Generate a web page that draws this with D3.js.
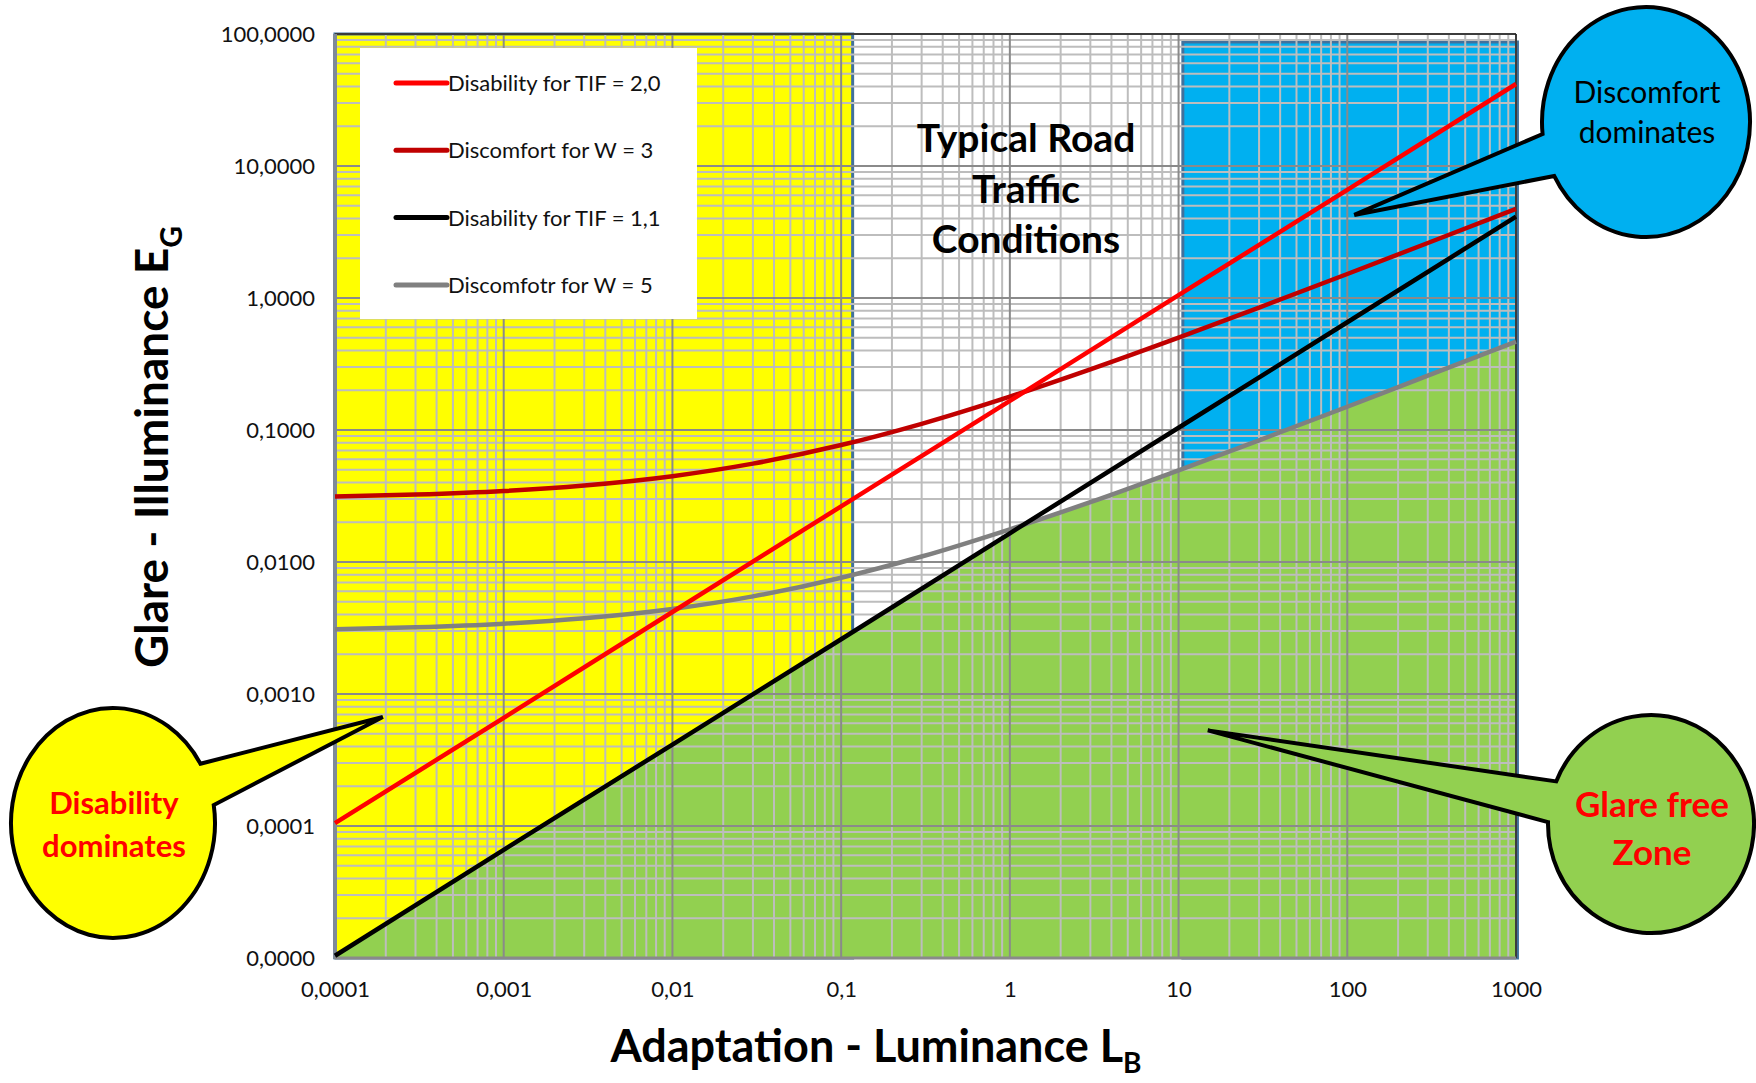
<!DOCTYPE html>
<html>
<head>
<meta charset="utf-8">
<script src="https://cdn.jsdelivr.net/npm/d3@7"></script>
<style>
    body { margin: 0; background: #fff; }
    svg { display: block; font-family: Lato, "Open Sans", sans-serif; }
</style>
</head>
<body>
<div id="chart"></div>
<script>
// adaptation luminance (x) for the straight disability lines
var lumDecades = [0.0001, 0.001, 0.01, 0.1, 1, 10, 100, 1000];
var disabilityTif20 = [0.000105, 0.00066, 0.00418, 0.0264, 0.166, 1.05, 6.6, 41.8];
var disabilityTif11 = [0.0000104, 0.000066, 0.000414, 0.0026, 0.0165, 0.104, 0.655, 4.13];

// adaptation luminance (x) for the curved discomfort lines
var lumSteps = [0.0001, 0.0003, 0.001, 0.003, 0.01, 0.03, 0.1, 0.3, 1, 3, 10, 30, 100, 300, 1000];
var discomfortW3 = [0.0313, 0.0324, 0.0345, 0.038, 0.0447, 0.0556, 0.0769, 0.1114, 0.179, 0.288, 0.501, 0.846, 1.52, 2.61, 4.74];
var discomfortW5 = [0.00309, 0.0032, 0.00341, 0.00375, 0.00441, 0.00549, 0.0076, 0.011, 0.0177, 0.0284, 0.0495, 0.0836, 0.15, 0.258, 0.468];

var seriesNames = ["Disability for TIF = 2,0", "Discomfort for W = 3", "Disability for TIF = 1,1", "Discomfotr for W = 5"];
var seriesColors = ["#ff0000", "#c00000", "#000000", "#808080"];

var xTicks = [0.0001, 0.001, 0.01, 0.1, 1, 10, 100, 1000];
var xTickLabels = ["0,0001", "0,001", "0,01", "0,1", "1", "10", "100", "1000"];
var yTicks = [0.00001, 0.0001, 0.001, 0.01, 0.1, 1, 10, 100];
var yTickLabels = ["0,0000", "0,0001", "0,0010", "0,0100", "0,1000", "1,0000", "10,0000", "100,0000"];

// zone limits in luminance / illuminance
var yellowZone = [0.0001, 0.117, 100];
var blueZone = [10.6, 1020, 87];

function init() {
    var w = 1756;
    var h = 1083;
    var left = 335, right = 1516, top = 34, bottom = 958;

    var svg = d3.select("#chart")
        .append("svg")
        .attr("width", w)
        .attr("height", h);

    var xScale = d3.scaleLog().domain([0.0001, 1000]).range([left, right]);
    var yScale = d3.scaleLog().domain([0.00001, 100]).range([bottom, top]);

    var pts = function (xs, ys) {
        return xs.map(function (d, i) { return { x: d, y: ys[i] }; });
    };
    var red = pts(lumDecades, disabilityTif20);
    var black = pts(lumDecades, disabilityTif11);
    var darkRed = pts(lumSteps, discomfortW3);
    var grey = pts(lumSteps, discomfortW5);

    // zones
    svg.append("rect")
        .attr("x", xScale(yellowZone[0]))
        .attr("y", yScale(yellowZone[2]))
        .attr("width", xScale(yellowZone[1]) - xScale(yellowZone[0]))
        .attr("height", bottom - yScale(yellowZone[2]))
        .attr("fill", "#ffff00")
        .attr("stroke", "#41719c")
        .attr("stroke-width", 3);

    svg.append("rect")
        .attr("x", xScale(blueZone[0]))
        .attr("y", yScale(blueZone[2]))
        .attr("width", xScale(blueZone[1]) - xScale(blueZone[0]))
        .attr("height", bottom - yScale(blueZone[2]))
        .attr("fill", "#00b0f0")
        .attr("stroke", "#41719c")
        .attr("stroke-width", 3);

    // glare free zone: below both the black line and the grey curve
    var areaUnder = function (curve) {
        return d3.area()
            .x(function (d) { return xScale(d.x); })
            .y0(bottom)
            .y1(function (d) { return yScale(d.y); })
            .curve(curve);
    };
    svg.append("clipPath")
        .attr("id", "underGrey")
        .append("path")
        .attr("d", areaUnder(d3.curveMonotoneX)(grey));
    svg.append("path")
        .attr("d", areaUnder(d3.curveLinear)(black))
        .attr("clip-path", "url(#underGrey)")
        .attr("fill", "#92d050");

    // grid lines
    var minorX = [], minorY = [];
    for (var k = -5; k <= 2; k++) {
        for (var m = 2; m <= 9; m++) {
            var v = m * Math.pow(10, k);
            if (v > 0.0001 && v < 1000) minorX.push(v);
            if (v > 0.00001 && v < 100) minorY.push(v);
        }
    }
    var grid = svg.append("g");
    grid.selectAll(".minorX").data(minorX).enter().append("line")
        .attr("x1", function (d) { return xScale(d); })
        .attr("x2", function (d) { return xScale(d); })
        .attr("y1", top).attr("y2", bottom)
        .attr("stroke", "#bdbdbd").attr("stroke-width", 2);
    grid.selectAll(".minorY").data(minorY).enter().append("line")
        .attr("y1", function (d) { return yScale(d); })
        .attr("y2", function (d) { return yScale(d); })
        .attr("x1", left).attr("x2", right)
        .attr("stroke", "#bdbdbd").attr("stroke-width", 2);
    grid.selectAll(".majorX").data(xTicks).enter().append("line")
        .attr("x1", function (d) { return xScale(d); })
        .attr("x2", function (d) { return xScale(d); })
        .attr("y1", top).attr("y2", bottom)
        .attr("stroke", "#8a8a8a").attr("stroke-width", 2);
    grid.selectAll(".majorY").data(yTicks).enter().append("line")
        .attr("y1", function (d) { return yScale(d); })
        .attr("y2", function (d) { return yScale(d); })
        .attr("x1", left).attr("x2", right)
        .attr("stroke", "#8a8a8a").attr("stroke-width", 2);

    // frame
    svg.append("line").attr("x1", left).attr("x2", right).attr("y1", top).attr("y2", top)
        .attr("stroke", "#222").attr("stroke-width", 1.5);
    svg.append("line").attr("x1", right).attr("x2", right).attr("y1", top).attr("y2", bottom)
        .attr("stroke", "#222").attr("stroke-width", 1.5);
    svg.append("line").attr("x1", left).attr("x2", left).attr("y1", top).attr("y2", bottom + 1)
        .attr("stroke", "#7f8a98").attr("stroke-width", 4);
    svg.append("line").attr("x1", left).attr("x2", right).attr("y1", bottom).attr("y2", bottom)
        .attr("stroke", "#8a8a8a").attr("stroke-width", 3);

    // legend box
    var legend = svg.append("g").attr("transform", "translate(360,48)");
    legend.append("rect")
        .attr("width", 337).attr("height", 271)
        .attr("fill", "#fff");
    var legendItem = legend.selectAll(".legend-item")
        .data(seriesNames)
        .enter()
        .append("g")
        .attr("transform", function (d, i) { return "translate(0," + (35 + i * 67.3) + ")"; });
    legendItem.append("line")
        .attr("x1", 36).attr("x2", 87)
        .attr("stroke", function (d, i) { return seriesColors[i]; })
        .attr("stroke-width", 5)
        .attr("stroke-linecap", "round");
    legendItem.append("text")
        .attr("x", 88)
        .attr("dy", "0.36em")
        .style("font-size", "22px")
        .attr("fill", "#111")
        .text(function (d) { return d; });

    // data lines
    var lineGen = function (curve) {
        return d3.line()
            .x(function (d) { return xScale(d.x); })
            .y(function (d) { return yScale(d.y); })
            .curve(curve);
    };
    var seriesData = [red, darkRed, black, grey];
    var curves = [d3.curveLinear, d3.curveMonotoneX, d3.curveLinear, d3.curveMonotoneX];
    [3, 2, 1, 0].forEach(function (i) {
        svg.append("path")
            .datum(seriesData[i])
            .attr("d", lineGen(curves[i]))
            .attr("fill", "none")
            .attr("stroke", seriesColors[i])
            .attr("stroke-width", 4.5);
    });

    // road traffic label
    var road = svg.append("text")
        .attr("text-anchor", "middle")
        .style("font-size", "39px")
        .style("font-weight", "bold")
        .attr("fill", "#000");
    ["Typical Road", "Traffic", "Conditions"].forEach(function (t, i) {
        road.append("tspan").attr("x", 1026).attr("y", 152 + i * 50.5).text(t);
    });

    // callout bubbles (tip given in chart units)
    var callouts = [
        { cx: 113, cy: 823, rx: 102, ry: 115, a1: -31, a2: -9, tip: [0.000192, 0.00067],
          fill: "#ffff00", color: "#ff0000", weight: "bold", size: 31,
          lines: ["Disability", "dominates"], tx: 114, ty: [814, 857] },
        { cx: 1646, cy: 122, rx: 104, ry: 115, a1: 152, a2: 174, tip: [110, 4.26],
          fill: "#00b0f0", color: "#000", weight: "normal", size: 30,
          lines: ["Discomfort", "dominates"], tx: 1647, ty: [103, 143] },
        { cx: 1651, cy: 824, rx: 103, ry: 109, a1: 181, a2: 203, tip: [14.9, 0.00053],
          fill: "#92d050", color: "#ff0000", weight: "bold", size: 35,
          lines: ["Glare free", "Zone"], tx: 1652, ty: [817, 865] }
    ];
    callouts.forEach(function (c) {
        var p = function (a) {
            var r = a * Math.PI / 180;
            return [c.cx + c.rx * Math.cos(r), c.cy + c.ry * Math.sin(r)];
        };
        var p1 = p(c.a1), p2 = p(c.a2);
        var tx = xScale(c.tip[0]), ty = yScale(c.tip[1]);
        var d = "M" + p1[0] + "," + p1[1] +
            "L" + tx + "," + ty +
            "L" + p2[0] + "," + p2[1] +
            "A" + c.rx + "," + c.ry + " 0 1 1 " + p1[0] + "," + p1[1] + "Z";
        svg.append("path")
            .attr("d", d)
            .attr("fill", c.fill)
            .attr("stroke", "#000")
            .attr("stroke-width", 4)
            .attr("stroke-linejoin", "miter");
        var t = svg.append("text")
            .attr("text-anchor", "middle")
            .style("font-size", c.size + "px")
            .style("font-weight", c.weight)
            .attr("fill", c.color);
        c.lines.forEach(function (s, i) {
            t.append("tspan").attr("x", c.tx).attr("y", c.ty[i]).text(s);
        });
    });

    // axes
    var xAxis = d3.axisBottom(xScale)
        .tickValues(xTicks)
        .tickSize(0)
        .tickFormat(function (d, i) { return xTickLabels[i]; });
    var gx = svg.append("g")
        .attr("transform", "translate(0," + bottom + ")")
        .call(xAxis);
    gx.select(".domain").remove();
    gx.selectAll("text")
        .attr("dy", "1.65em")
        .style("font-family", "Lato, sans-serif")
        .style("font-size", "22px")
        .attr("fill", "#111");

    var yAxis = d3.axisLeft(yScale)
        .tickValues(yTicks)
        .tickSize(0)
        .tickFormat(function (d, i) { return yTickLabels[i]; });
    var gy = svg.append("g")
        .attr("transform", "translate(" + (left - 17) + ",0)")
        .call(yAxis);
    gy.select(".domain").remove();
    gy.selectAll("text")
        .style("font-family", "Lato, sans-serif")
        .style("font-size", "22px")
        .attr("fill", "#111");

    // axis titles
    var xt = svg.append("text")
        .attr("x", 876)
        .attr("y", 1062)
        .attr("text-anchor", "middle")
        .style("font-size", "45px")
        .style("font-weight", "bold");
    xt.append("tspan").text("Adaptation - Luminance L");
    xt.append("tspan").attr("dy", 11).style("font-size", "28px").text("B");

    var yt = svg.append("text")
        .attr("transform", "translate(168,447) rotate(-90)")
        .attr("text-anchor", "middle")
        .style("font-size", "46px")
        .style("font-weight", "bold");
    yt.append("tspan").text("Glare - Illuminance E");
    yt.append("tspan").attr("dy", 14).style("font-size", "30px").text("G");
}

window.onload = init;
</script>
</body>
</html>
